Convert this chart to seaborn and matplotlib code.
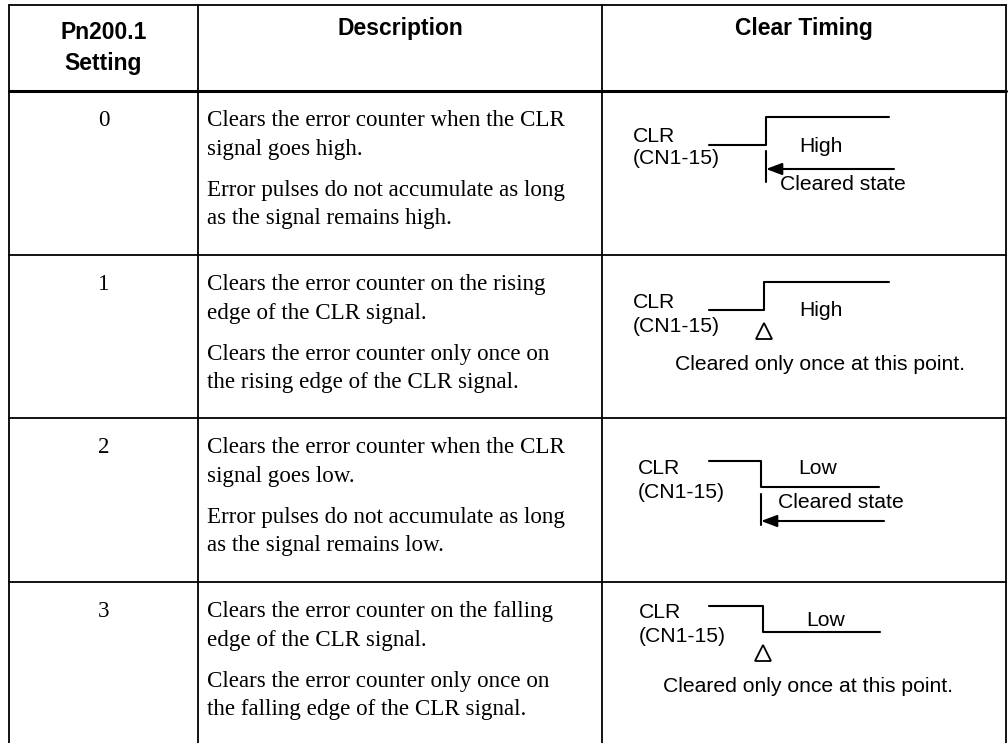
import matplotlib
matplotlib.use("Agg")
import matplotlib.pyplot as plt
import seaborn as sns

# table content
header = ["Pn200.1", "Setting", "Description", "Clear Timing"]
settings = ["0", "1", "2", "3"]
desc_first = [
    ["Clears the error counter when the CLR", "signal goes high."],
    ["Clears the error counter on the rising", "edge of the CLR signal."],
    ["Clears the error counter when the CLR", "signal goes low."],
    ["Clears the error counter on the falling", "edge of the CLR signal."],
]
desc_second = [
    ["Error pulses do not accumulate as long", "as the signal remains high."],
    ["Clears the error counter only once on", "the rising edge of the CLR signal."],
    ["Error pulses do not accumulate as long", "as the signal remains low."],
    ["Clears the error counter only once on", "the falling edge of the CLR signal."],
]
# CLR level before / after the edge
level_before = [0, 0, 1, 1]
level_after = [1, 1, 0, 0]
level_labels = ["High", "High", "Low", "Low"]
clear_mode = ["state", "edge", "state", "edge"]
signal_name = ["CLR", "(CN1-15)"]
state_note = "Cleared state"
edge_note = "Cleared only once at this point."

# layout (pixels, offsets relative to row top)
W, H = 1008, 743
col_x = [9, 198, 602, 1006]
row_y = [5, 91, 255, 418, 582]
hi_y = [26, 27, 43, 24]
lo_y = [54, 55, 69, 50]
edge_x = [766, 764, 761, 763]
end_x = [889, 889, 879, 880]
sig_x = [633, 633, 638, 639]
sig_y = [45, 48, 51, 31]
lab_x = [799, 799, 798, 806]
lab_y = [55, 56, 51, 39]
note_x = [780, 675, 778, 663]

sns.set_theme(style="white")
plt.rcParams["font.family"] = ["Liberation Sans", "DejaVu Sans"]
plt.rcParams["text.color"] = "black"

fig = plt.figure(figsize=(W / 100, H / 100), dpi=100)
ax = fig.add_axes([0, 0, 1, 1])
ax.set_xlim(0, W)
ax.set_ylim(H, 0)
ax.axis("off")

# grid lines
for x in col_x:
    ax.plot([x, x], [row_y[0], H + 2], color="black", lw=1.3)
for i, y in enumerate(row_y):
    ax.plot([col_x[0], col_x[-1]], [y, y], color="black", lw=2.2 if i == 1 else 1.3)

# header
sans_b = dict(fontfamily="Liberation Sans", fontweight="bold", fontsize=16.5, va="baseline")
ax.text((col_x[0] + col_x[1]) / 2, 39, header[0], ha="center", **sans_b)
ax.text((col_x[0] + col_x[1]) / 2, 70, header[1], ha="center", **sans_b)
ax.text((col_x[1] + col_x[2]) / 2, 35, header[2], ha="center", **sans_b)
ax.text((col_x[2] + col_x[3]) / 2, 35, header[3], ha="center", **sans_b)

serif = dict(fontfamily="Liberation Serif", fontsize=16.6, va="baseline")
sans = dict(fontfamily="Liberation Sans", fontsize=15.2, va="center")

for r in range(4):
    top = row_y[r + 1]
    ax.text((col_x[0] + col_x[1]) / 2, top + 35, settings[r], ha="center", **serif)
    for k, line in enumerate(desc_first[r]):
        ax.text(207, top + 35 + 29 * k, line, ha="left", **serif)
    for k, line in enumerate(desc_second[r]):
        ax.text(207, top + 105 + 28 * k, line, ha="left", **serif)

    # CLR waveform
    ya = top + (hi_y[r] if level_before[r] else lo_y[r])
    yb = top + (hi_y[r] if level_after[r] else lo_y[r])
    sns.lineplot(x=[709, edge_x[r], edge_x[r], end_x[r]], y=[ya, ya, yb, yb],
                 sort=False, estimator=None, color="black", lw=1.5, ax=ax)

    ax.text(sig_x[r], top + sig_y[r], signal_name[0], ha="left", **sans)
    ax.text(sig_x[r], top + sig_y[r] + 23, signal_name[1], ha="left", **sans)
    ax.text(lab_x[r], top + lab_y[r], level_labels[r], ha="left", **sans)

    if clear_mode[r] == "state":
        t0 = top + lo_y[r] + (6 if r == 0 else 7)
        ax.plot([edge_x[r], edge_x[r]], [t0, t0 + 31], color="black", lw=1.5)
        ay = t0 + (18 if r == 0 else 27)
        ax.annotate("", xy=(edge_x[r], ay), xytext=(end_x[r] + 5, ay),
                    arrowprops=dict(arrowstyle="-|>,head_length=0.8,head_width=0.3",
                                    color="black", lw=1.5, shrinkA=0, shrinkB=0))
        ny = ay + 15 if r == 0 else ay - 19
        ax.text(note_x[r], ny, state_note, ha="left", **sans)
    else:
        ax.plot([edge_x[r]], [top + lo_y[r] + 21], marker="^", markersize=11,
                mfc="white", mec="black", mew=1.3, linestyle="none")
        ax.text(note_x[r], top + lo_y[r] + 54, edge_note, ha="left", **sans)

fig.savefig("out.png", dpi=100)
